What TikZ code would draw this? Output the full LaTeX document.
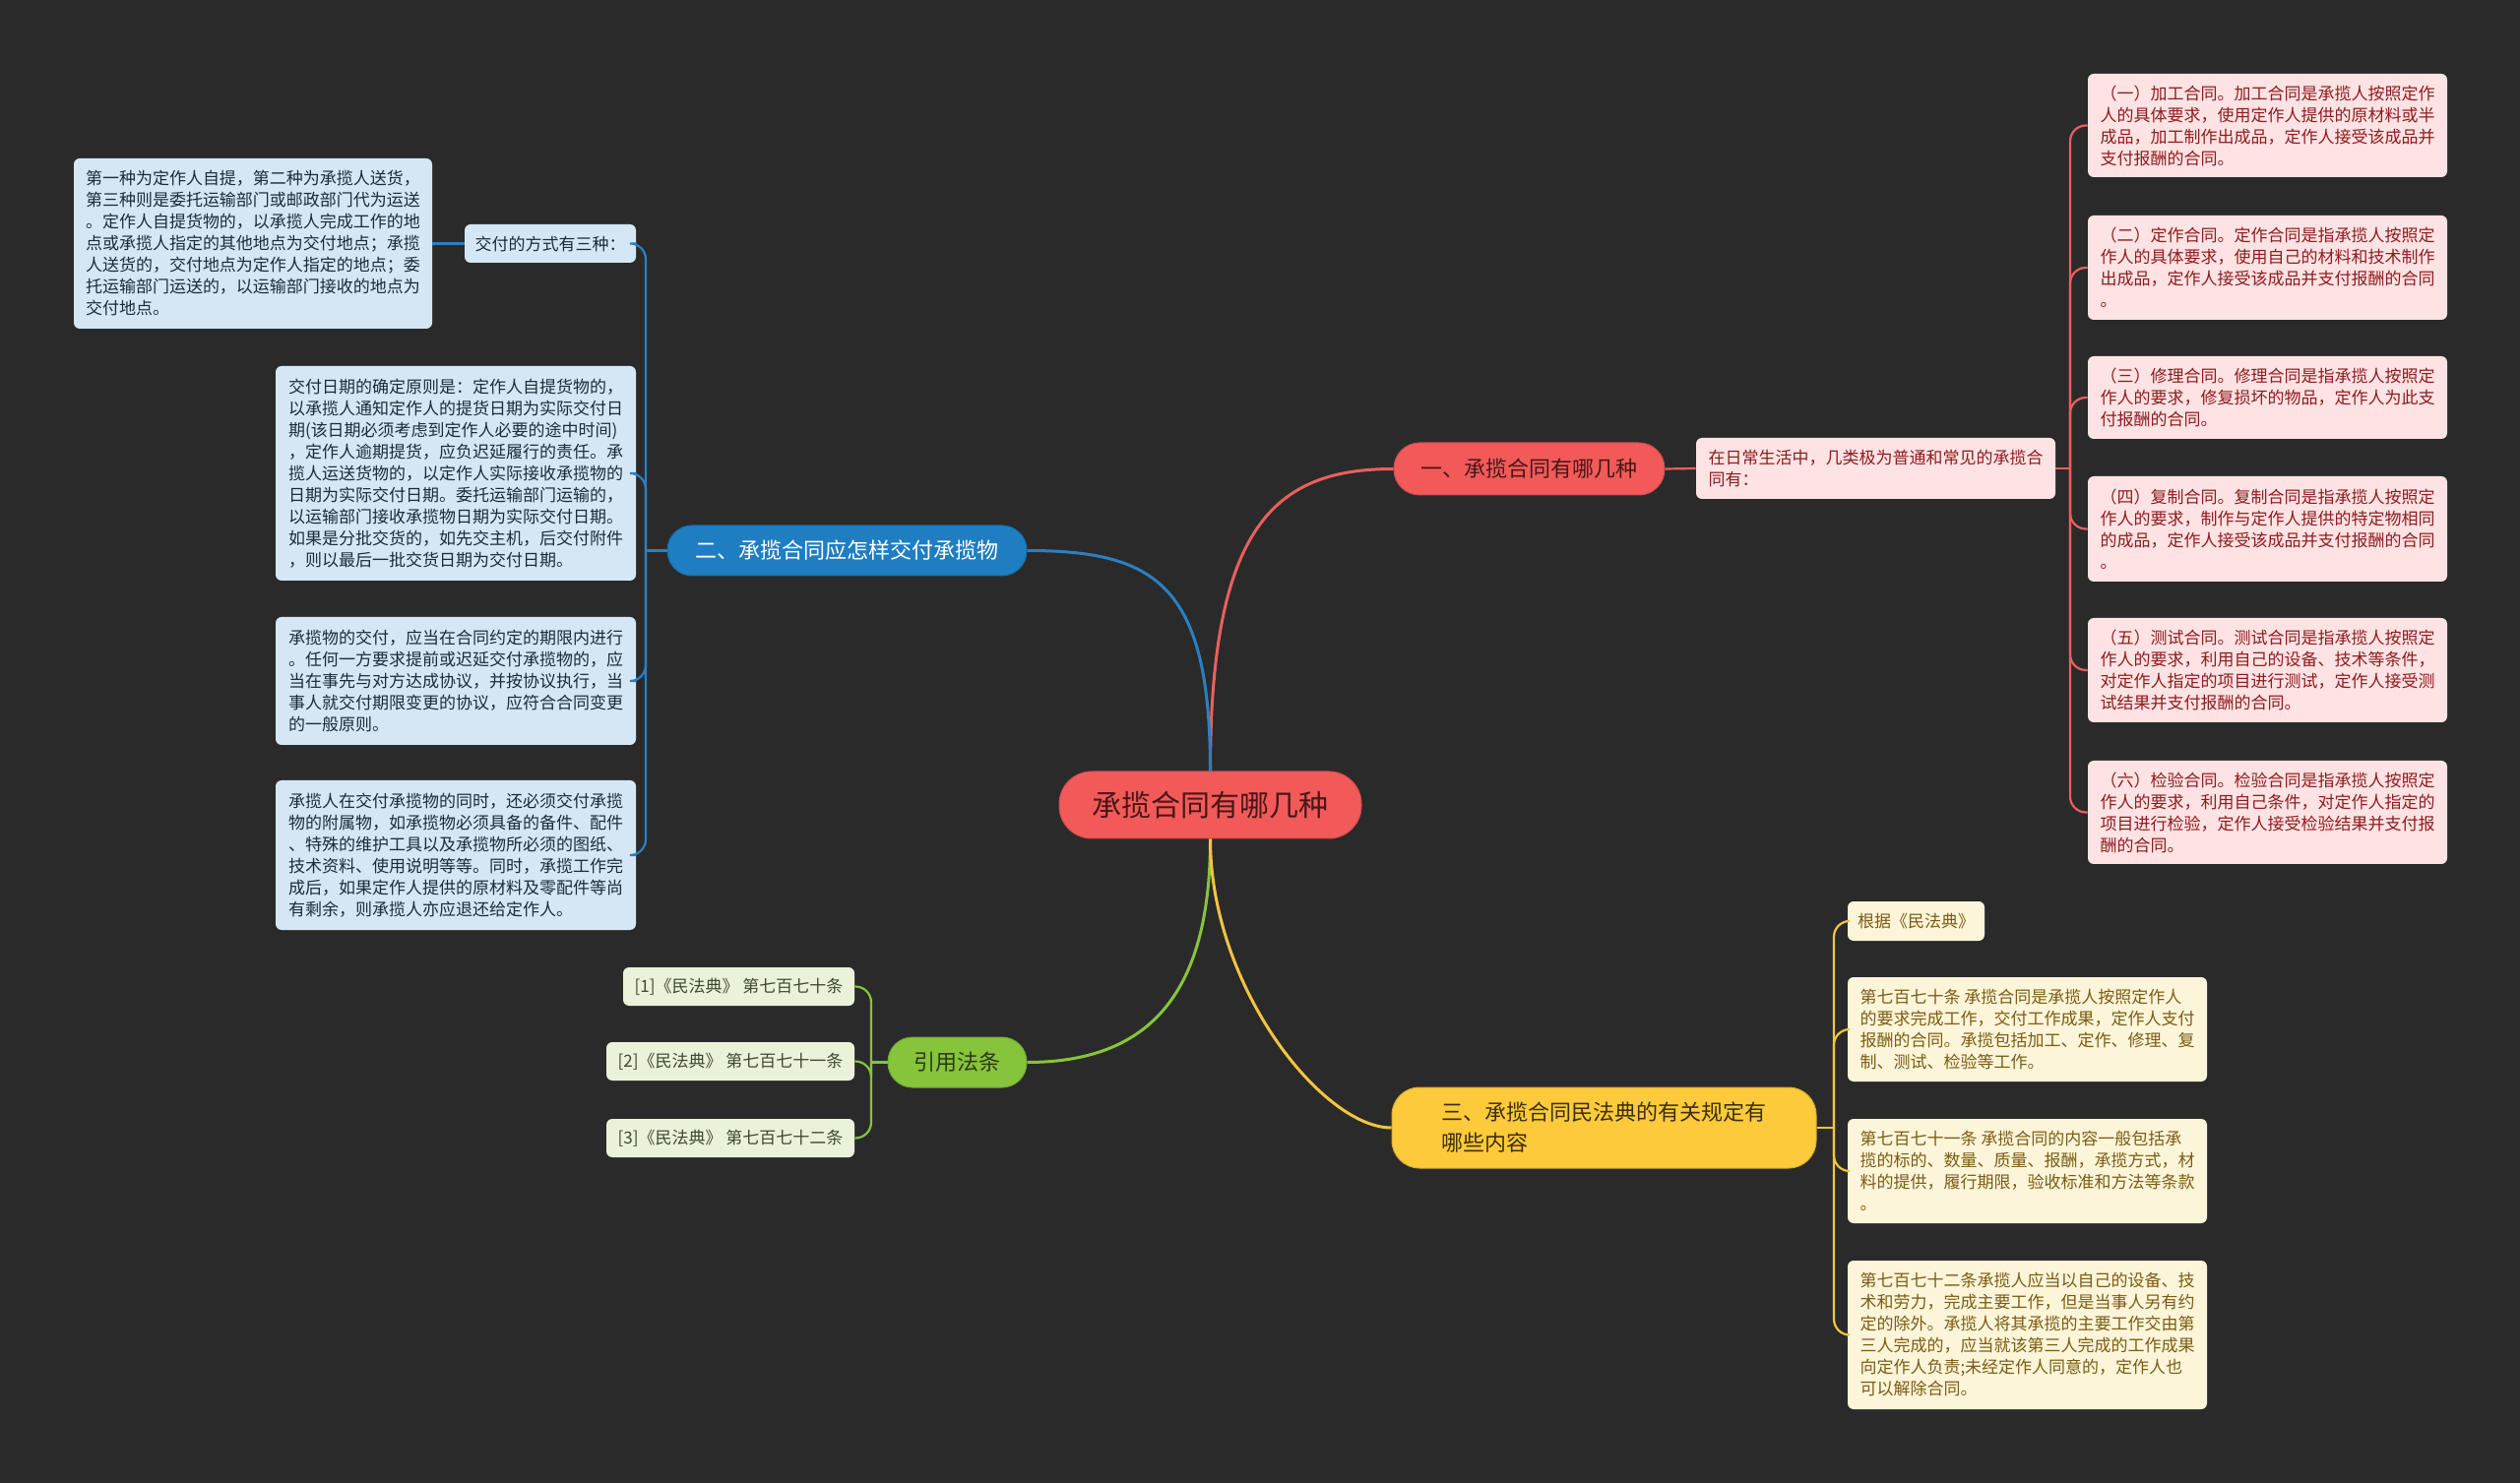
\documentclass[tikz,border=0pt]{standalone}
\usepackage{fontspec}
\setmainfont{Noto Sans CJK SC}
\definecolor{bg}{HTML}{2A2A2A}
\definecolor{redfill}{HTML}{F25A5A}
\definecolor{redtext}{HTML}{4A1616}
\definecolor{redline}{HTML}{E8605F}
\definecolor{pinkfill}{HTML}{FDE3E3}
\definecolor{pinktext}{HTML}{8E1B20}
\definecolor{bluefill}{HTML}{1F7EC2}
\definecolor{blueline}{HTML}{2A80C2}
\definecolor{lbluefill}{HTML}{D5E7F4}
\definecolor{bluetext}{HTML}{1C2B3A}
\definecolor{greenfill}{HTML}{86C43C}
\definecolor{greentext}{HTML}{2D3A12}
\definecolor{lgreenfill}{HTML}{EAF3DA}
\definecolor{lgreentext}{HTML}{3D4A2C}
\definecolor{yelfill}{HTML}{FDCA3B}
\definecolor{yeltext}{HTML}{3B2F0A}
\definecolor{yelline}{HTML}{F2C440}
\definecolor{lyelfill}{HTML}{FDF5D9}
\definecolor{lyeltext}{HTML}{7A5C14}
\begin{document}
\begin{tikzpicture}[x=0.5pt,y=-0.5pt,
  small/.style={font=\fontsize{8.5}{11}\selectfont, align=left, rounded corners=3pt, inner sep=0pt},
  pinkbox/.style={small, fill=pinkfill, text=pinktext},
  bluebox/.style={small, fill=lbluefill, text=bluetext},
  greenbox/.style={small, fill=lgreenfill, text=lgreentext},
  yelbox/.style={small, fill=lyelfill, text=lyeltext},
  branch/.style={font=\fontsize{11}{15.5}\selectfont, align=left, inner sep=0pt},
  mainln/.style={line width=1.5pt},
  subln/.style={line width=1.1pt, rounded corners=8pt},
]
\fill[bg] (0,0) rectangle (2560,1507);
\useasboundingbox (0,0) rectangle (2560,1507);

% center
\node[fill=redfill, draw=redfill!85!black, line width=0.5pt, text=redtext, rounded corners=16.5pt, inner sep=0pt,
  minimum width=153.5pt, minimum height=34pt, font=\fontsize{15}{18}\selectfont] (c) at (1229.5,818) {承揽合同有哪几种};

% branches
\node[branch, fill=redfill, draw=redfill!85!black, line width=0.5pt, text=redtext, rounded corners=13pt,
  minimum width=137.5pt, minimum height=26.5pt] (b1) at (1553.5,476.5) {一、承揽合同有哪几种};
\node[branch, fill=bluefill, draw=bluefill!85!black, line width=0.5pt, text=white, rounded corners=12.5pt,
  minimum width=182.5pt, minimum height=25.5pt] (b2) at (860.5,559.5) {二、承揽合同应怎样交付承揽物};
\node[branch, fill=greenfill, draw=greenfill!85!black, line width=0.5pt, text=greentext, rounded corners=12.5pt,
  minimum width=70.5pt, minimum height=25.5pt] (g) at (972.5,1079.5) {引用法条};
\node[branch, fill=yelfill, draw=yelfill!85!black, line width=0.5pt, text=yeltext, rounded corners=14pt,
  minimum width=215.5pt, minimum height=41pt] (y0) at (1629.5,1146) {三、承揽合同民法典的有关规定有\\哪些内容};

% red children
\node[pinkbox, minimum width=182.5pt, minimum height=31pt] (p0) at (1905.5,476) {在日常生活中，几类极为普通和常见的承揽合\\同有：};
\node[pinkbox, minimum width=182.5pt, minimum height=52.5pt] (r1) at (2303.5,127.5) {（一）加工合同。加工合同是承揽人按照定作\\人的具体要求，使用定作人提供的原材料或半\\成品，加工制作出成品，定作人接受该成品并\\支付报酬的合同。};
\node[pinkbox, minimum width=182.5pt, minimum height=53pt] (r2) at (2303.5,272) {（二）定作合同。定作合同是指承揽人按照定\\作人的具体要求，使用自己的材料和技术制作\\出成品，定作人接受该成品并支付报酬的合同\\。};
\node[pinkbox, minimum width=182.5pt, minimum height=42pt] (r3) at (2303.5,404) {（三）修理合同。修理合同是指承揽人按照定\\作人的要求，修复损坏的物品，定作人为此支\\付报酬的合同。};
\node[pinkbox, minimum width=182.5pt, minimum height=53.5pt] (r4) at (2303.5,537.5) {（四）复制合同。复制合同是指承揽人按照定\\作人的要求，制作与定作人提供的特定物相同\\的成品，定作人接受该成品并支付报酬的合同\\。};
\node[pinkbox, minimum width=182.5pt, minimum height=53pt] (r5) at (2303.5,681) {（五）测试合同。测试合同是指承揽人按照定\\作人的要求，利用自己的设备、技术等条件，\\对定作人指定的项目进行测试，定作人接受测\\试结果并支付报酬的合同。};
\node[pinkbox, minimum width=182.5pt, minimum height=52.5pt] (r6) at (2303.5,825.5) {（六）检验合同。检验合同是指承揽人按照定\\作人的要求，利用自己条件，对定作人指定的\\项目进行检验，定作人接受检验结果并支付报\\酬的合同。};

% blue children
\node[bluebox, minimum width=87pt, minimum height=19.5pt] (l0) at (559,247.5) {交付的方式有三种：};
\node[bluebox, minimum width=182pt, minimum height=86.5pt] (l1) at (257,247.5) {第一种为定作人自提，第二种为承揽人送货，\\第三种则是委托运输部门或邮政部门代为运送\\。定作人自提货物的，以承揽人完成工作的地\\点或承揽人指定的其他地点为交付地点；承揽\\人送货的，交付地点为定作人指定的地点；委\\托运输部门运送的，以运输部门接收的地点为\\交付地点。};
\node[bluebox, minimum width=183pt, minimum height=109pt] (l2) at (463,481) {交付日期的确定原则是：定作人自提货物的，\\以承揽人通知定作人的提货日期为实际交付日\\期(该日期必须考虑到定作人必要的途中时间)\\，定作人逾期提货，应负迟延履行的责任。承\\揽人运送货物的，以定作人实际接收承揽物的\\日期为实际交付日期。委托运输部门运输的，\\以运输部门接收承揽物日期为实际交付日期。\\如果是分批交货的，如先交主机，后交付附件\\，则以最后一批交货日期为交付日期。};
\node[bluebox, minimum width=183pt, minimum height=65pt] (l3) at (463,692) {承揽物的交付，应当在合同约定的期限内进行\\。任何一方要求提前或迟延交付承揽物的，应\\当在事先与对方达成协议，并按协议执行，当\\事人就交付期限变更的协议，应符合合同变更\\的一般原则。};
\node[bluebox, minimum width=183pt, minimum height=76pt] (l4) at (463,869) {承揽人在交付承揽物的同时，还必须交付承揽\\物的附属物，如承揽物必须具备的备件、配件\\、特殊的维护工具以及承揽物所必须的图纸、\\技术资料、使用说明等等。同时，承揽工作完\\成后，如果定作人提供的原材料及零配件等尚\\有剩余，则承揽人亦应退还给定作人。};

% green children
\node[greenbox, minimum width=117.5pt, minimum height=19.5pt] (g1) at (750.5,1002.5) {[1]《民法典》 第七百七十条};
\node[greenbox, minimum width=126pt, minimum height=19.5pt] (g2) at (742,1078.5) {[2]《民法典》 第七百七十一条};
\node[greenbox, minimum width=126pt, minimum height=19.5pt] (g3) at (742,1156.5) {[3]《民法典》 第七百七十二条};

% yellow children
\node[yelbox, minimum width=69.5pt, minimum height=20pt] (y1) at (1946.5,936) {根据《民法典》};
\node[yelbox, minimum width=182.5pt, minimum height=53pt] (y2) at (2059.5,1046) {第七百七十条 承揽合同是承揽人按照定作人\\的要求完成工作，交付工作成果，定作人支付\\报酬的合同。承揽包括加工、定作、修理、复\\制、测试、检验等工作。};
\node[yelbox, minimum width=182.5pt, minimum height=53pt] (y3) at (2059.5,1190) {第七百七十一条 承揽合同的内容一般包括承\\揽的标的、数量、质量、报酬，承揽方式，材\\料的提供，履行期限，验收标准和方法等条款\\。};
\node[yelbox, minimum width=182.5pt, minimum height=75.5pt] (y4) at (2059.5,1356.5) {第七百七十二条承揽人应当以自己的设备、技\\术和劳力，完成主要工作，但是当事人另有约\\定的除外。承揽人将其承揽的主要工作交由第\\三人完成的，应当就该第三人完成的工作成果\\向定作人负责;未经定作人同意的，定作人也\\可以解除合同。};

% main connectors
\begin{scope}[on background layer/.style={}]
\end{scope}
\draw[mainln, redline] (c.north) .. controls +(0,-250) and +(-120,0) .. (b1.west);
\draw[mainln, blueline] (c.north) .. controls +(0,-190) and +(130,0) .. (b2.east);
\draw[mainln, greenfill] (c.south) .. controls +(0,150) and +(130,0) .. (g.east);
\draw[mainln, yelline] (c.south) .. controls +(0,150) and +(-70,0) .. (y0.west);

% red sub connectors
\draw[subln, redline] (b1.east) -- (p0.west);
\coordinate (rs) at (2103,476);
\draw[subln, redline] (p0.east) -- (rs);
\foreach \n in {r1,r2,r3,r4,r5,r6} \draw[subln, redline] (rs) |- (\n.west);

% blue sub connectors
\coordinate (bs) at (656,559.5);
\draw[subln, blueline] (b2.west) -- (bs);
\foreach \n in {l0,l2,l3,l4} \draw[subln, blueline] (bs) |- (\n.east);
\draw[subln, blueline] (l0.west) -- (l1.east);

% green sub connectors
\coordinate (gs) at (885,1079.5);
\draw[subln, greenfill] (g.west) -- (gs);
\foreach \n in {g1,g2,g3} \draw[subln, greenfill] (gs) |- (\n.east);

% yellow sub connectors
\coordinate (ys) at (1863,1146);
\draw[subln, yelline] (y0.east) -- (ys);
\foreach \n in {y1,y2,y3,y4} \draw[subln, yelline] (ys) |- (\n.west);
\end{tikzpicture}
\end{document}
